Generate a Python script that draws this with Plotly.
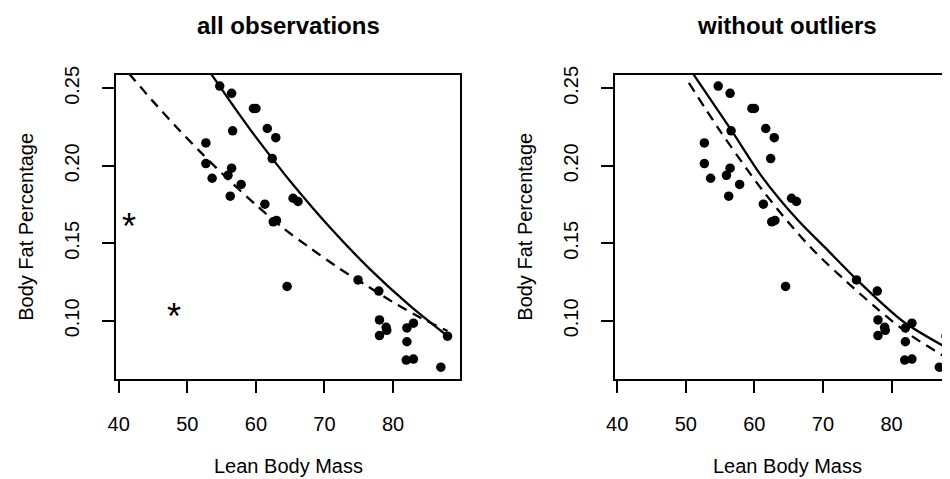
import plotly.graph_objects as go

# ---------------- data ----------------
# Lean body mass / body fat percentage (observations shown in both panels)
lean_mass = [54.73, 56.46, 59.64, 60.01, 56.61, 61.66, 62.90, 52.71, 62.38, 52.71,
             56.46, 53.62, 55.93, 57.85, 56.26, 65.42, 66.14, 61.31, 62.53, 63.00,
             64.55, 74.89, 77.92, 78.02, 78.99, 79.08, 78.02, 82.02, 82.97, 82.02,
             81.92, 82.97, 86.97, 87.94]
body_fat = [0.2515, 0.2468, 0.2370, 0.2370, 0.2226, 0.2241, 0.2182, 0.2148, 0.2047, 0.2015,
            0.1985, 0.1920, 0.1939, 0.1880, 0.1804, 0.1791, 0.1770, 0.1753, 0.1639, 0.1648,
            0.1222, 0.1264, 0.1192, 0.1006, 0.0958, 0.0939, 0.0905, 0.0954, 0.0985, 0.0865,
            0.0747, 0.0753, 0.0701, 0.0901]

# Outliers (only in the left panel, drawn as asterisks)
outlier_mass = [41.49, 47.99]
outlier_fat = [0.1654, 0.1074]

# Fitted curves, left panel ("all observations")
left_solid_x = [52.80, 56.40, 59.29, 62.20, 65.07, 70.84, 76.62, 82.40, 87.94]
left_solid_y = [0.2636, 0.2406, 0.2227, 0.2058, 0.1897, 0.1600, 0.1334, 0.1100, 0.0902]
left_dash_x = [41.49, 45.0, 48.5, 52.0, 56.0, 60.0, 64.0, 68.0, 72.0, 76.0, 80.0, 84.0, 87.94]
left_dash_y = [0.2596, 0.2416, 0.2246, 0.2085, 0.1911, 0.1748, 0.1597, 0.1467, 0.1343,
               0.1231, 0.1120, 0.1020, 0.0934]

# Fitted curves, right panel ("without outliers")
right_solid_x = [50.60, 51.20, 56.71, 61.04, 66.33, 70.50, 74.97, 81.69, 87.94]
right_solid_y = [0.2624, 0.2585, 0.2225, 0.1934, 0.1650, 0.1464, 0.1264, 0.0996, 0.0829]
right_dash_x = [50.45, 55.00, 59.12, 61.04, 64.88, 68.96, 73.29, 77.85, 82.65, 87.94]
right_dash_y = [0.2535, 0.2225, 0.1966, 0.1851, 0.1639, 0.1439, 0.1259, 0.1080, 0.0911, 0.0764]

x_ticks = [40, 50, 60, 70, 80]
y_ticks = [0.10, 0.15, 0.20, 0.25]
y_tick_text = ["0.10", "0.15", "0.20", "0.25"]

titles = ["all observations", "without outliers"]
x_title = "Lean Body Mass"
y_title = "Body Fat Percentage"

# ---------------- styling / layout ----------------
# The page body has an 8px margin, so the figure is drawn at (8, 8) in the window.
OFF = 8
WIN_W, WIN_H = 950, 479
W, H = WIN_W - OFF, WIN_H - OFF
FONT = "Liberation Sans, Arial, Helvetica, sans-serif"
BLACK = "#000000"


def px(x):   # window x pixel -> paper x
    return (x - OFF) / W


def py(y):   # window y pixel -> paper y
    return 1 - (y - OFF) / H


L1, R1 = 108.0, 455.7      # left plot region (window px)
L2, R2 = 611.7, 950.0      # right plot region (cut at the window edge)
TOP, BOT = 67.0, 377.0
X_RANGE = [39.61, 89.82]
Y_RANGE = [0.0625, 0.2587]
scale = (R1 - L1) / (X_RANGE[1] - X_RANGE[0])

fig = go.Figure()


def add_panel(xa, ya, sx, sy, dx, dy):
    fig.add_trace(go.Scatter(x=lean_mass, y=body_fat, mode="markers",
                             marker=dict(symbol="circle", size=9.5, color=BLACK, line=dict(width=0)),
                             xaxis=xa, yaxis=ya, showlegend=False, hoverinfo="x+y"))
    fig.add_trace(go.Scatter(x=sx, y=sy, mode="lines",
                             line=dict(color=BLACK, width=2.3, shape="spline", smoothing=0.8),
                             xaxis=xa, yaxis=ya, showlegend=False, hoverinfo="skip"))
    fig.add_trace(go.Scatter(x=dx, y=dy, mode="lines",
                             line=dict(color=BLACK, width=2.3, dash="10px,7px", shape="spline", smoothing=0.8),
                             xaxis=xa, yaxis=ya, showlegend=False, hoverinfo="skip"))


add_panel("x", "y", left_solid_x, left_solid_y, left_dash_x, left_dash_y)
add_panel("x2", "y2", right_solid_x, right_solid_y, right_dash_x, right_dash_y)

annotations = []
# outlier asterisks (left panel); yshift centres the glyph on its data point
for mx, fy in zip(outlier_mass, outlier_fat):
    annotations.append(dict(x=mx, y=fy, xref="x", yref="y", text="*", showarrow=False,
                            xanchor="center", yanchor="middle", yshift=-7.5,
                            font=dict(family=FONT, size=36, color=BLACK)))

for (l, r), t in zip([(L1, R1), (L2, L2 + (R1 - L1))], titles):
    cx = px((l + r) / 2)
    annotations.append(dict(x=cx, y=py(17), xref="paper", yref="paper",
                            text="<b>" + t + "</b>", showarrow=False,
                            xanchor="center", yanchor="middle",
                            font=dict(family=FONT, size=24, color=BLACK)))
    annotations.append(dict(x=cx, y=py(465.5), xref="paper", yref="paper",
                            text=x_title, showarrow=False, xanchor="center", yanchor="middle",
                            font=dict(family=FONT, size=20, color=BLACK)))
    annotations.append(dict(x=px(l - 91), y=py((TOP + BOT) / 2), xref="paper", yref="paper",
                            text=y_title, showarrow=False, textangle=-90,
                            xanchor="center", yanchor="middle",
                            font=dict(family=FONT, size=20, color=BLACK)))

axis_common = dict(showgrid=False, zeroline=False, showline=True, linecolor=BLACK, linewidth=1.5,
                   ticks="outside", ticklen=12, tickwidth=1.5, tickcolor=BLACK,
                   tickfont=dict(family=FONT, size=20, color=BLACK))

xa_common = dict(axis_common, tickvals=x_ticks, ticktext=[str(v) for v in x_ticks],
                 ticklabelstandoff=14)
ya_common = dict(axis_common, tickvals=y_ticks, ticktext=y_tick_text, tickangle=-90,
                 ticklabelstandoff=15)

ydom = [py(BOT), py(TOP)]

fig.update_layout(
    width=W, height=H, autosize=False,
    margin=dict(l=0, r=0, t=0, b=0, pad=0),
    paper_bgcolor="white", plot_bgcolor="white",
    font=dict(family=FONT, color=BLACK),
    xaxis=dict(xa_common, domain=[px(L1), px(R1)], range=X_RANGE, mirror=True, anchor="y"),
    yaxis=dict(ya_common, domain=ydom, range=Y_RANGE, mirror=True, anchor="x"),
    xaxis2=dict(xa_common, domain=[px(L2), 1.0],
                range=[39.67, 39.67 + (R2 - L2) / scale], mirror=True, anchor="y2"),
    yaxis2=dict(ya_common, domain=ydom, range=Y_RANGE, mirror=False, anchor="x2"),
    annotations=annotations,
    showlegend=False,
)

fig.write_html("out.html")
